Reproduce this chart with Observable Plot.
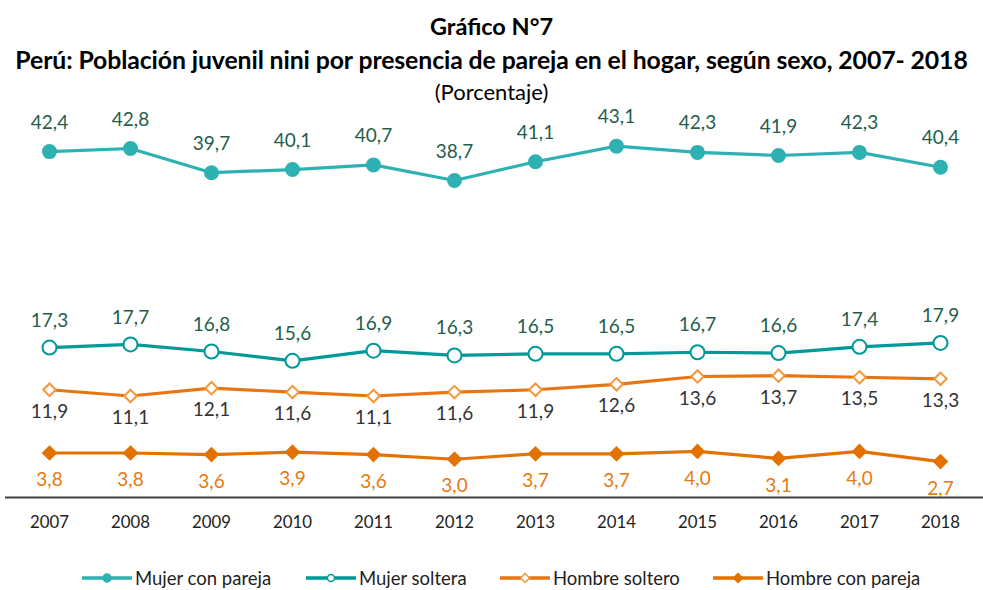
<!DOCTYPE html>
<html><head><meta charset="utf-8">
<script src="https://cdn.jsdelivr.net/npm/d3@7"></script>
<script src="https://cdn.jsdelivr.net/npm/@observablehq/plot@0.6"></script>
<style>
body{margin:0;background:#fff;font-family:Lato,"Open Sans",sans-serif;}
#wrap{width:983px;position:relative;}
.t1{text-align:center;font-weight:bold;font-size:23.5px;line-height:34px;padding-top:9px;color:#000;}
.t2{text-align:center;font-weight:bold;font-size:24.8px;line-height:33px;color:#000;white-space:nowrap;letter-spacing:-0.1px;}
.t3{text-align:center;font-size:22px;line-height:31px;color:#000;}
#legend{position:relative;height:47px;}
.li{position:absolute;top:26px;height:20px;display:flex;align-items:center;font-size:18.5px;color:#222;white-space:nowrap;}
.li svg{margin-right:3px;}
</style></head>
<body><div id="wrap">
<div class="t1">Gráfico N°7</div>
<div class="t2">Perú: Población juvenil nini por presencia de pareja en el hogar, según sexo, 2007- 2018</div>
<div class="t3">(Porcentaje)</div>
<div id="chart"></div>
<div id="legend"></div>
</div>
<script>
const years = [2007,2008,2009,2010,2011,2012,2013,2014,2015,2016,2017,2018];
const mujerConPareja = [42.4,42.8,39.7,40.1,40.7,38.7,41.1,43.1,42.3,41.9,42.3,40.4];
const mujerSoltera = [17.3,17.7,16.8,15.6,16.9,16.3,16.5,16.5,16.7,16.6,17.4,17.9];
const hombreSoltero = [11.9,11.1,12.1,11.6,11.1,11.6,11.9,12.6,13.6,13.7,13.5,13.3];
const hombreConPareja = [3.8,3.8,3.6,3.9,3.6,3.0,3.7,3.7,4.0,3.1,4.0,2.7];
const seriesNames = ["Mujer con pareja","Mujer soltera","Hombre soltero","Hombre con pareja"];

const valuesBy = {"Mujer con pareja":mujerConPareja,"Mujer soltera":mujerSoltera,"Hombre soltero":hombreSoltero,"Hombre con pareja":hombreConPareja};
const style = {
  "Mujer con pareja":{line:"#2EB1B3",fill:"#2EB1B3",stroke:"#2EB1B3",symbol:"circle",r:6.5,label:"#1F5E4C",dy:-29},
  "Mujer soltera":{line:"#00999A",fill:"white",stroke:"#00999A",symbol:"circle",r:7,label:"#1F5E4C",dy:-27},
  "Hombre soltero":{line:"#E87511",fill:"white",stroke:"#F5963A",symbol:"diamond2",r:5.6,label:"#333333",dy:22},
  "Hombre con pareja":{line:"#E37200",fill:"#E37200",stroke:"#E37200",symbol:"diamond2",r:5.8,label:"#E8790F",dy:27}
};
const fmt = v => v.toFixed(1).replace(".",",");
const marks = [];
for (const s of seriesNames) {
  const data = years.map((y,i)=>({year:String(y), value:valuesBy[s][i]}));
  const st = style[s];
  marks.push(Plot.line(data,{x:"year",y:"value",stroke:st.line,strokeWidth:3.2}));
}
for (const s of seriesNames) {
  const data = years.map((y,i)=>({year:String(y), value:valuesBy[s][i]}));
  const st = style[s];
  marks.push(Plot.dot(data,{x:"year",y:"value",symbol:()=>st.symbol,r:st.r,fill:st.fill,stroke:st.stroke,strokeWidth:2}));
  marks.push(Plot.text(data,{x:"year",y:"value",text:d=>fmt(d.value),dy:st.dy,fill:st.label,fontSize:19}));
}
const yMin = -1.9;
marks.push(Plot.ruleY([yMin],{stroke:"#404040",strokeWidth:2}));
marks.push(Plot.axisX({tickSize:0,tickPadding:19,fontSize:16.8,color:"#222",label:null}));

const chart = Plot.plot({
  width:983, height:435,
  marginTop:16, marginBottom:45, marginLeft:5, marginRight:0,
  style:{fontFamily:'Lato,sans-serif',background:"white",overflow:"visible"},
  x:{type:"point",domain:years.map(String),padding:0.48,label:null},
  y:{domain:[yMin,46],axis:null},
  symbol:{type:"identity"},
  marks
});
document.getElementById("chart").appendChild(chart);

const legendX = [82,306,500,713];
const lg = document.getElementById("legend");
seriesNames.forEach((s,i)=>{
  const st = style[s];
  const d = document.createElement("div");
  d.className="li"; d.style.left=legendX[i]+"px";
  let marker;
  if (st.symbol==="circle") {
    marker = `<circle cx="25" cy="10" r="${st.fill==='white'?3.5:4}" fill="${st.fill}" stroke="${st.stroke}" stroke-width="1.5"/>`;
  } else {
    marker = `<path d="M25,5.5L29.5,10L25,14.5L20.5,10Z" fill="${st.fill}" stroke="${st.stroke}" stroke-width="1.5"/>`;
  }
  d.innerHTML = `<svg width="50" height="20"><line x1="0" x2="50" y1="10" y2="10" stroke="${st.line}" stroke-width="3.5"/>${marker}</svg><span>${s}</span>`;
  lg.appendChild(d);
});
</script>
</body></html>
